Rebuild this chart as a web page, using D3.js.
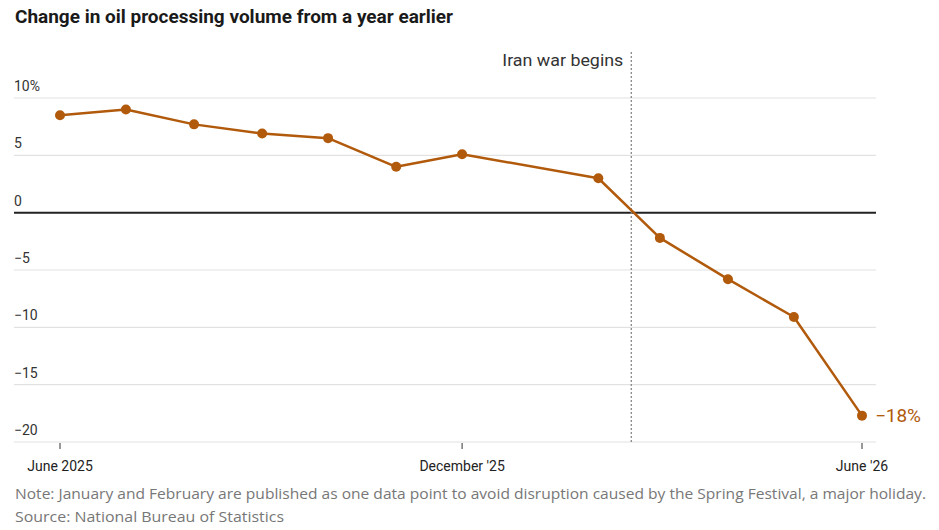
<!DOCTYPE html>
<html>
<head>
<meta charset="utf-8">
<script src="https://cdn.jsdelivr.net/npm/d3@7"></script>
<style>
  body { margin: 0; background: #fff; }
  svg { display: block; font-family: "Roboto", "Noto Sans", sans-serif; }
</style>
</head>
<body>
<div id="chart"></div>
<script>
// data: monthly readings, January and February published as one point (plotted at February)
const months = ["2025-06", "2025-07", "2025-08", "2025-09", "2025-10", "2025-11",
  "2025-12", "2026-02", "2026-03", "2026-04", "2026-05", "2026-06"]
const change = [8.5, 9.0, 7.7, 6.9, 6.5, 4.0, 5.1, 3.0, -2.2, -5.8, -9.1, -17.7]
const yTicks = [10, 5, 0, -5, -10, -15, -20]
const xTicks = ["2025-06", "2025-12", "2026-06"]
const xTickLabels = ["June 2025", "December '25", "June '26"]
const warDate = "2026-02-16"

const WIDTH = 939
const HEIGHT = 530
const COLOR = "#b15a0c"

const parse = d3.timeParse("%Y-%m")
const parseDay = d3.timeParse("%Y-%m-%d")
const data = months.map((m, i) => ({ date: parse(m), value: change[i] }))

const svg = d3.select("#chart").append("svg")
  .attr("width", WIDTH)
  .attr("height", HEIGHT)

const x = d3.scaleTime()
  .domain([parse("2025-06"), parse("2026-06")])
  .range([60, 862])

const y = d3.scaleLinear()
  .domain([-20, 10])
  .range([442, 98])

// Title
svg.append("text")
  .attr("x", 15)
  .attr("y", 23)
  .attr("font-size", "18px")
  .attr("font-weight", "bold")
  .attr("fill", "#1a1a1a")
  .attr("textLength", 438)
  .attr("lengthAdjust", "spacingAndGlyphs")
  .text("Change in oil processing volume from a year earlier")

// Grid + y labels
const yAxis = svg.append("g").attr("class", "y axis")
yAxis.selectAll("line")
  .data(yTicks)
  .enter().append("line")
    .attr("x1", 14)
    .attr("x2", 876)
    .attr("y1", d => y(d))
    .attr("y2", d => y(d))
    .attr("stroke", d => d === 0 ? "#222" : "#e2e2e2")
    .attr("stroke-width", d => d === 0 ? 2 : 1.2)

yAxis.selectAll("text")
  .data(yTicks)
  .enter().append("text")
    .attr("x", 14)
    .attr("y", d => y(d) - 7)
    .attr("font-size", "14px")
    .attr("fill", "#333")
    .text(d => (d < 0 ? "\u2212" + Math.abs(d) : d) + (d === 10 ? "%" : ""))

// Iran war marker
const wx = x(parseDay(warDate))
svg.append("line")
  .attr("x1", wx)
  .attr("x2", wx)
  .attr("y1", 52)
  .attr("y2", 442)
  .attr("stroke", "#888")
  .attr("stroke-width", 1.3)
  .attr("stroke-dasharray", "2,2")

svg.append("text")
  .attr("x", wx - 8)
  .attr("y", 66)
  .attr("text-anchor", "end")
  .attr("font-size", "16.5px")
  .attr("fill", "#333")
  .attr("textLength", 121)
  .attr("lengthAdjust", "spacingAndGlyphs")
  .text("Iran war begins")

// X axis ticks
const xAxis = svg.append("g").attr("class", "x axis")
xAxis.selectAll("line")
  .data(xTicks)
  .enter().append("line")
    .attr("x1", d => x(parse(d)))
    .attr("x2", d => x(parse(d)))
    .attr("y1", 443)
    .attr("y2", 449)
    .attr("stroke", "#333")
    .attr("stroke-width", 1)

xAxis.selectAll("text")
  .data(xTicks)
  .enter().append("text")
    .attr("x", d => x(parse(d)))
    .attr("y", 471)
    .attr("text-anchor", "middle")
    .attr("font-size", "14px")
    .attr("fill", "#222")
    .text((d, i) => xTickLabels[i])

// Line
const line = d3.line()
  .x(d => x(d.date))
  .y(d => y(d.value))

svg.append("path")
  .datum(data)
  .attr("fill", "none")
  .attr("stroke", COLOR)
  .attr("stroke-width", 2.5)
  .attr("stroke-linejoin", "round")
  .attr("d", line)

svg.selectAll("circle")
  .data(data)
  .enter().append("circle")
    .attr("cx", d => x(d.date))
    .attr("cy", d => y(d.value))
    .attr("r", 5)
    .attr("fill", COLOR)

// End label
const last = data[data.length - 1]
svg.append("text")
  .attr("x", x(last.date) + 13)
  .attr("y", y(last.value) + 6)
  .attr("font-size", "17.5px")
  .attr("fill", COLOR)
  .attr("textLength", 46)
  .attr("lengthAdjust", "spacingAndGlyphs")
  .text("\u2212" + Math.round(Math.abs(last.value)) + "%")

// Notes
svg.append("text")
  .attr("x", 15)
  .attr("y", 499)
  .attr("font-family", "'Open Sans', sans-serif")
  .attr("font-size", "14.5px")
  .attr("fill", "#777")
  .attr("textLength", 911)
  .attr("lengthAdjust", "spacingAndGlyphs")
  .text("Note: January and February are published as one data point to avoid disruption caused by the Spring Festival, a major holiday.")

svg.append("text")
  .attr("x", 15)
  .attr("y", 522)
  .attr("font-family", "'Open Sans', sans-serif")
  .attr("font-size", "14.5px")
  .attr("fill", "#777")
  .attr("textLength", 269)
  .attr("lengthAdjust", "spacingAndGlyphs")
  .text("Source: National Bureau of Statistics")
</script>
</body>
</html>
